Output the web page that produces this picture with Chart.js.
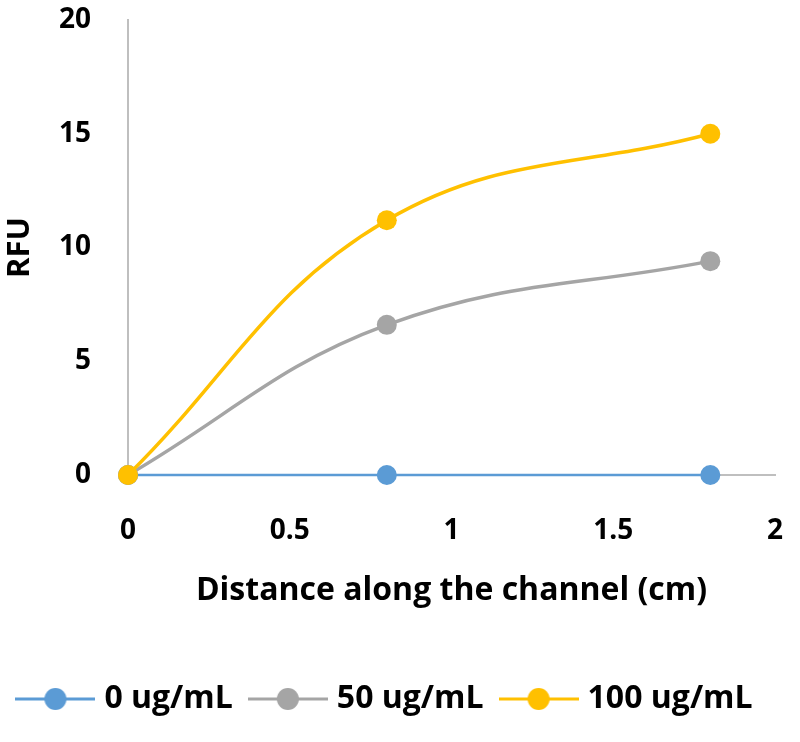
<!DOCTYPE html>
<html>
<head>
<meta charset="utf-8">
<script src="https://cdn.jsdelivr.net/npm/chart.js@4.4.1/dist/chart.umd.min.js"></script>
<style>
  html, body { margin: 0; padding: 0; background: #fff; }
  #wrap { width: 800px; height: 742px; }
</style>
</head>
<body>
<div id="wrap"><canvas id="myChart"></canvas></div>
<script>
// values
let distances = [0, 0.8, 1.8];
let rfu0 = [0, 0, 0];
let rfu50 = [0, 6.6, 9.4];
let rfu100 = [0, 11.2, 15];
let seriesNames = ['0 ug/mL', '50 ug/mL', '100 ug/mL'];
let cores = ['#5B9BD5', '#A5A5A5', '#FFC000'];
let xTicks = [0, 0.5, 1, 1.5, 2];
let yTicks = [0, 5, 10, 15, 20];

let fontFamily = "'Open Sans', sans-serif";

function toPoints(ys) {
    return distances.map((x, i) => ({ x: x, y: ys[i] }));
}

// legend icon: line with a marker, like the spreadsheet legend
function legendIcon(color) {
    let c = document.createElement('canvas');
    c.width = 80;
    c.height = 24;
    let g = c.getContext('2d');
    g.strokeStyle = color;
    g.lineWidth = 3;
    g.beginPath();
    g.moveTo(0, 12);
    g.lineTo(80, 12);
    g.stroke();
    g.fillStyle = color;
    g.beginPath();
    g.arc(40, 12, 11, 0, Math.PI * 2);
    g.fill();
    return c;
}

let allSeries = [rfu0, rfu50, rfu100];
let datasets = allSeries.map((s, i) => ({
    label: seriesNames[i],
    data: toPoints(s),
    borderColor: cores[i],
    backgroundColor: cores[i],
    borderWidth: i === 0 ? 2.5 : 3.5,
    pointRadius: 10,
    pointHoverRadius: 10,
    pointBorderWidth: 0,
    tension: 0.4,
    clip: false,
    order: 2 - i
}));

let ctx = document.getElementById('myChart').getContext('2d');

let myChart = new Chart(ctx, {
    type: 'line',
    data: { datasets: datasets },
    options: {
        responsive: true,
        maintainAspectRatio: false,
        animation: false,
        layout: { padding: { top: 20, right: 25, left: 0, bottom: 17 } },
        plugins: {
            tooltip: { enabled: false },
            legend: {
                position: 'bottom',
                labels: {
                    usePointStyle: true,
                    pointStyleWidth: 66,
                    padding: 22,
                    color: '#000',
                    font: { family: fontFamily, size: 32, weight: 'bold' },
                    generateLabels: (chart) => {
                        return chart.data.datasets.map((ds, i) => ({
                            text: ds.label,
                            fillStyle: ds.borderColor,
                            strokeStyle: ds.borderColor,
                            fontColor: '#000',
                            lineWidth: 0,
                            pointStyle: legendIcon(ds.borderColor),
                            hidden: false,
                            datasetIndex: i
                        }));
                    }
                }
            }
        },
        scales: {
            x: {
                type: 'linear',
                min: xTicks[0],
                max: xTicks[xTicks.length - 1],
                afterBuildTicks: (scale) => {
                    scale.ticks = xTicks.map(v => ({ value: v }));
                },
                afterFit: (scale) => {
                    scale.height = 186;
                    scale.paddingLeft = 0;
                    scale.paddingRight = 0;
                },
                grid: { display: false, drawTicks: false },
                border: { display: true, color: '#BFBFBF', width: 2 },
                ticks: {
                    padding: 39,
                    color: '#000',
                    font: { family: fontFamily, size: 28, weight: 'bold' },
                    callback: (value) => String(value)
                },
                title: {
                    display: true,
                    text: 'Distance along the channel (cm)',
                    color: '#000',
                    font: { family: fontFamily, size: 32, weight: 'bold' },
                    padding: { top: 0, bottom: 51 }
                }
            },
            y: {
                min: yTicks[0],
                max: yTicks[yTicks.length - 1],
                afterBuildTicks: (scale) => {
                    scale.ticks = yTicks.map(v => ({ value: v }));
                },
                afterFit: (scale) => {
                    scale.width = 128;
                    scale.paddingTop = 0;
                    scale.paddingBottom = 0;
                },
                grid: { display: false, drawTicks: false },
                border: { display: true, color: '#BFBFBF', width: 2 },
                ticks: {
                    padding: 37,
                    color: '#000',
                    font: { family: fontFamily, size: 28, weight: 'bold' },
                    callback: (value) => String(value)
                },
                title: {
                    display: true,
                    text: 'RFU',
                    color: '#000',
                    font: { family: fontFamily, size: 31, weight: 'bold' },
                    padding: { top: 2, bottom: 0 }
                }
            }
        }
    }
});
</script>
</body>
</html>
